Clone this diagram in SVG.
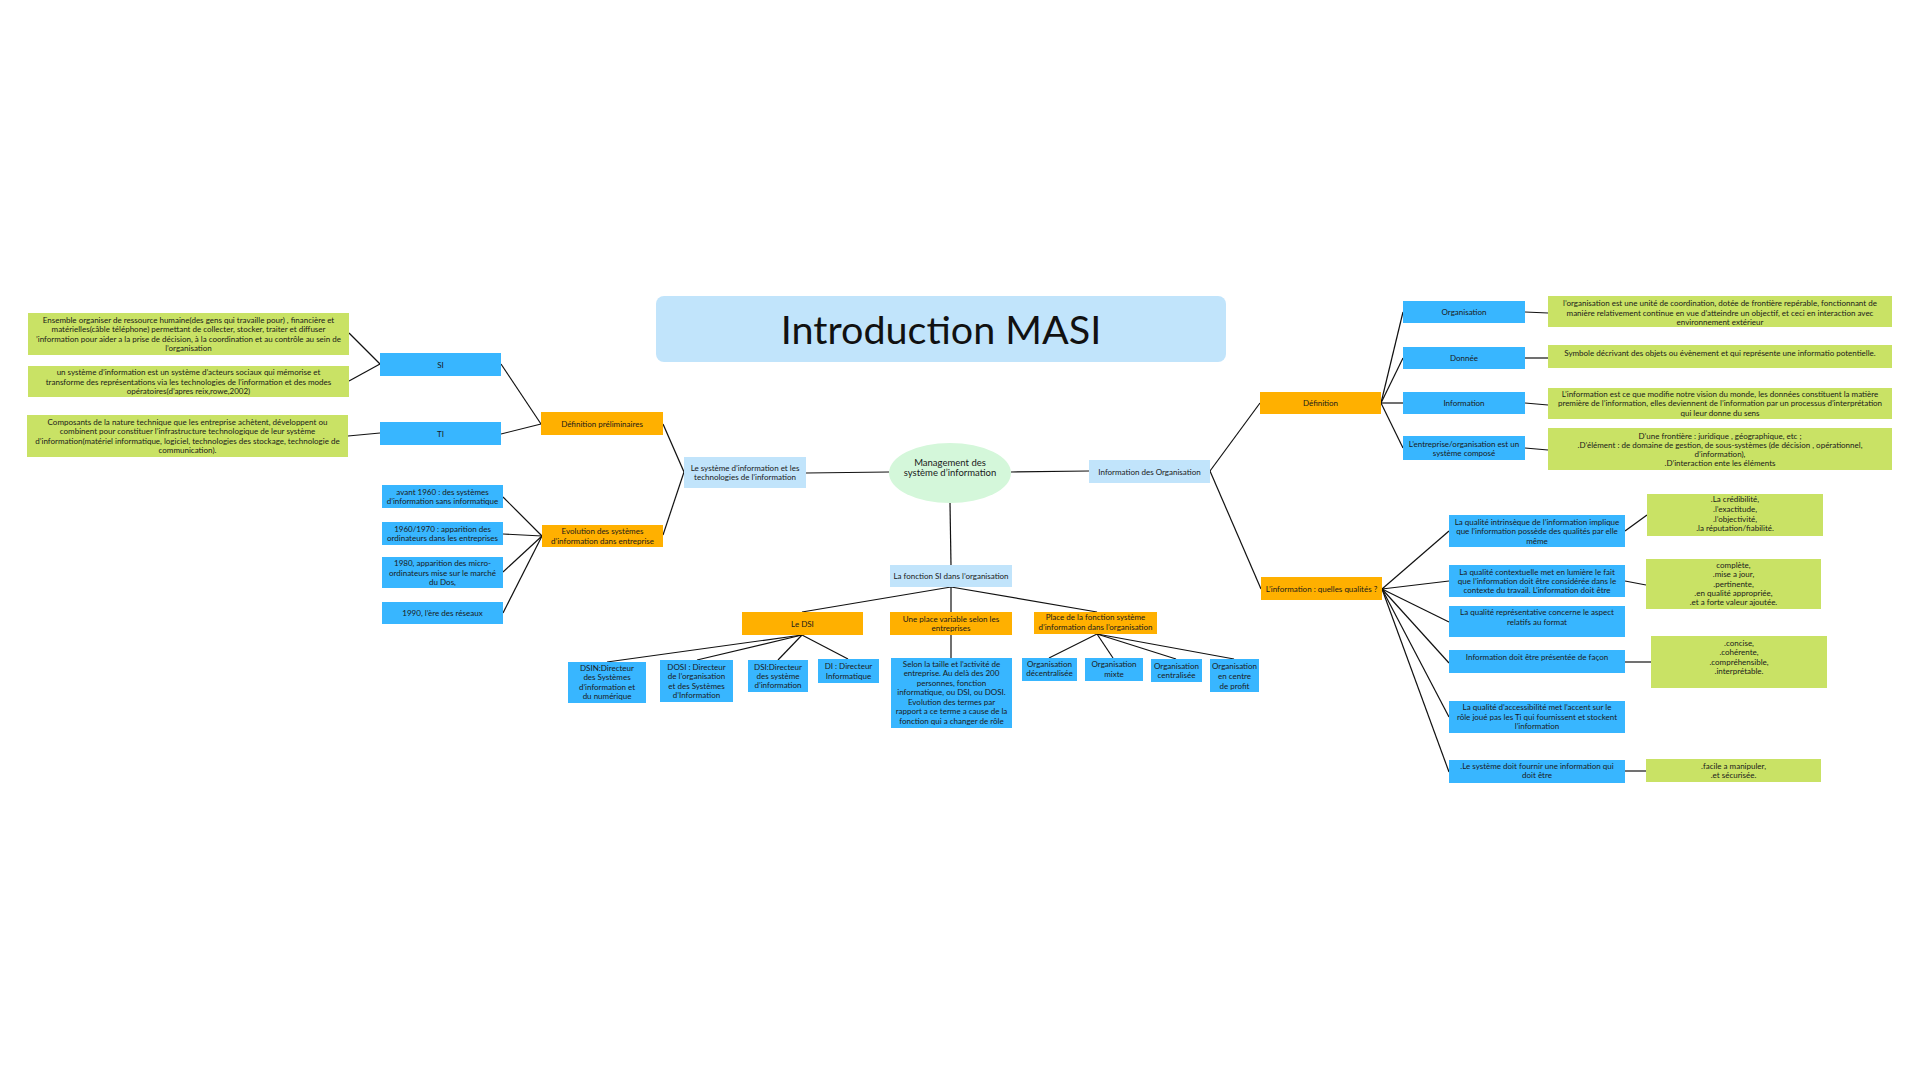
<svg xmlns="http://www.w3.org/2000/svg" width="1920" height="1080" viewBox="0 0 1920 1080">
<style>
text{font-family:"Lato","Liberation Sans",sans-serif;font-size:8px;fill:#1a1a1a;text-anchor:middle}
.b{fill:#38B6FF}
.o{fill:#FFB000}
.g{fill:#C9E265}
.l{fill:#C1E4FB}
.c line{stroke:#111;stroke-width:1.2}
.t{font-size:39.5px;fill:#111}
.m{font-size:9.5px}
</style>
<rect width="1920" height="1080" fill="#fff"/>
<g class="c">
<line x1="349" y1="333" x2="380" y2="364"/>
<line x1="349" y1="381" x2="380" y2="364"/>
<line x1="348" y1="436" x2="380" y2="433"/>
<line x1="501" y1="364" x2="541" y2="424"/>
<line x1="501" y1="434" x2="541" y2="424"/>
<line x1="503" y1="497" x2="542" y2="536"/>
<line x1="503" y1="534" x2="542" y2="536"/>
<line x1="503" y1="572" x2="542" y2="536"/>
<line x1="503" y1="613" x2="542" y2="536"/>
<line x1="663" y1="424" x2="684" y2="472"/>
<line x1="663" y1="535" x2="684" y2="472"/>
<line x1="806" y1="473" x2="889" y2="472"/>
<line x1="1011" y1="472" x2="1089" y2="471"/>
<line x1="950" y1="503" x2="951" y2="565"/>
<line x1="951" y1="587" x2="802" y2="612"/>
<line x1="951" y1="587" x2="951" y2="612"/>
<line x1="951" y1="587" x2="1097" y2="612"/>
<line x1="802" y1="635" x2="607" y2="662"/>
<line x1="802" y1="635" x2="697" y2="660"/>
<line x1="802" y1="635" x2="778" y2="660"/>
<line x1="802" y1="635" x2="848" y2="659"/>
<line x1="951" y1="635" x2="951" y2="658"/>
<line x1="1097" y1="634" x2="1049" y2="658"/>
<line x1="1097" y1="634" x2="1113" y2="658"/>
<line x1="1097" y1="634" x2="1176" y2="659"/>
<line x1="1097" y1="634" x2="1234" y2="659"/>
<line x1="1210" y1="471" x2="1260" y2="403"/>
<line x1="1210" y1="471" x2="1261" y2="589"/>
<line x1="1381" y1="403" x2="1403" y2="312"/>
<line x1="1381" y1="403" x2="1403" y2="358"/>
<line x1="1381" y1="403" x2="1403" y2="403"/>
<line x1="1381" y1="403" x2="1403" y2="448"/>
<line x1="1525" y1="312" x2="1548" y2="313"/>
<line x1="1525" y1="358" x2="1548" y2="358"/>
<line x1="1525" y1="403" x2="1548" y2="405"/>
<line x1="1525" y1="448" x2="1548" y2="450"/>
<line x1="1382" y1="589" x2="1449" y2="531"/>
<line x1="1382" y1="589" x2="1449" y2="581"/>
<line x1="1382" y1="589" x2="1449" y2="622"/>
<line x1="1382" y1="589" x2="1449" y2="663"/>
<line x1="1382" y1="589" x2="1449" y2="717"/>
<line x1="1382" y1="589" x2="1449" y2="772"/>
<line x1="1625" y1="531" x2="1647" y2="515"/>
<line x1="1625" y1="581" x2="1646" y2="585"/>
<line x1="1625" y1="662" x2="1651" y2="662"/>
<line x1="1625" y1="771" x2="1646" y2="771"/>
</g>

<g id="title"><rect class="l" x="656" y="296" width="570" height="66" rx="8"/><text class="t" x="941" y="343.5">Introduction MASI</text></g>

<g id="center"><ellipse cx="950" cy="473" rx="61" ry="30" fill="#D4F7DA"/><text class="m" x="950" y="465.5">Management des</text><text class="m" x="950" y="476">système d’information</text></g>

<g id="n-si-ti"><rect class="l" x="684" y="457" width="122" height="31"/><text x="745" y="470.8">Le système d’information et les</text><text x="745" y="480.1">technologies de l’information</text></g>
<g id="n-info-org"><rect class="l" x="1089" y="460" width="121" height="23"/><text x="1149.5" y="474.5">Information des Organisation</text></g>
<g id="n-fonction"><rect class="l" x="890" y="565" width="122" height="22"/><text x="951" y="579">La fonction SI dans l’organisation</text></g>

<g id="n-defprelim"><rect class="o" x="541" y="412" width="122" height="23"/><text x="602" y="426.5">Définition préliminaires</text></g>
<g id="n-evolution"><rect class="o" x="542" y="525" width="121" height="22"/><text x="602.5" y="534.3">Evolution des systèmes</text><text x="602.5" y="543.6">d’information dans entreprise</text></g>

<g id="n-si"><rect class="b" x="380" y="353" width="121" height="23"/><text x="440.5" y="367.5">SI</text></g>
<g id="n-ti"><rect class="b" x="380" y="422" width="121" height="23"/><text x="440.5" y="436.5">TI</text></g>

<g id="n-g1"><rect class="g" x="28" y="313" width="321" height="42"/><text x="188.5" y="323">Ensemble organiser de ressource humaine(des gens qui travaille pour) , financière et</text><text x="188.5" y="332.3">matérielles(câble téléphone) permettant de collecter, stocker, traiter et diffuser</text><text x="188.5" y="341.7">’information pour aider a la prise de décision, à la coordination et au contrôle au sein de</text><text x="188.5" y="351">l’organisation</text></g>
<g id="n-g2"><rect class="g" x="28" y="366" width="321" height="31"/><text x="188.5" y="375.2">un système d’information est un système d’acteurs sociaux qui mémorise et</text><text x="188.5" y="384.5">transforme des représentations via les technologies de l’information et des modes</text><text x="188.5" y="393.8">opératoires(d’apres reix,rowe,2002)</text></g>
<g id="n-g3"><rect class="g" x="27" y="415" width="321" height="42"/><text x="187.5" y="425">Composants de la nature technique que les entreprise achètent, développent ou</text><text x="187.5" y="434.3">combinent pour constituer l’infrastructure technologique de leur système</text><text x="187.5" y="443.6">d’information(matériel informatique, logiciel, technologies des stockage, technologie de</text><text x="187.5" y="453">communication).</text></g>

<g id="n-1960a"><rect class="b" x="382" y="485" width="121" height="23"/><text x="442.5" y="494.8">avant 1960 : des systèmes</text><text x="442.5" y="504.1">d’information sans informatique</text></g>
<g id="n-1960b"><rect class="b" x="382" y="522" width="121" height="23"/><text x="442.5" y="531.8">1960/1970 : apparition des</text><text x="442.5" y="541.1">ordinateurs dans les entreprises</text></g>
<g id="n-1980"><rect class="b" x="382" y="557" width="121" height="31"/><text x="442.5" y="566.2">1980, apparition des micro-</text><text x="442.5" y="575.5">ordinateurs mise sur le marché</text><text x="442.5" y="584.8">du Dos,</text></g>
<g id="n-1990"><rect class="b" x="382" y="602" width="121" height="22"/><text x="442.5" y="616">1990, l’ère des réseaux</text></g>

<g id="n-ledsi"><rect class="o" x="742" y="612" width="121" height="23"/><text x="802.5" y="626.5">Le DSI</text></g>
<g id="n-place-var"><rect class="o" x="890" y="612" width="122" height="23"/><text x="951" y="621.8">Une place variable selon les</text><text x="951" y="631.1">entreprises</text></g>
<g id="n-place-fn"><rect class="o" x="1034" y="612" width="123" height="22"/><text x="1095.5" y="620.3">Place de la fonction système</text><text x="1095.5" y="629.6">d’information dans l’organisation</text></g>

<g id="n-dsin"><rect class="b" x="568" y="662" width="78" height="41"/><text x="607" y="670.7">DSIN:Directeur</text><text x="607" y="680.1">des Systèmes</text><text x="607" y="689.5">d’information et</text><text x="607" y="698.9">du numérique</text></g>
<g id="n-dosi"><rect class="b" x="660" y="660" width="73" height="42"/><text x="696.5" y="669.9">DOSI : Directeur</text><text x="696.5" y="679.2">de l’organisation</text><text x="696.5" y="688.5">et des Systèmes</text><text x="696.5" y="697.8">d’Information</text></g>
<g id="n-dsi"><rect class="b" x="748" y="660" width="60" height="32"/><text x="778" y="669.7">DSI:Directeur</text><text x="778" y="679">des système</text><text x="778" y="688.3">d’information</text></g>
<g id="n-di"><rect class="b" x="818" y="659" width="61" height="24"/><text x="848.5" y="669">DI : Directeur</text><text x="848.5" y="678.7">Informatique</text></g>
<g id="n-selon"><rect class="b" x="891" y="658" width="121" height="70"/><text x="951.5" y="667">Selon la taille et l’activité de</text><text x="951.5" y="676.4">entreprise. Au delà des 200</text><text x="951.5" y="685.9">personnes, fonction</text><text x="951.5" y="695.3">informatique, ou DSI, ou DOSI.</text><text x="951.5" y="704.8">Evolution des termes par</text><text x="951.5" y="714.2">rapport a ce terme a cause de la</text><text x="951.5" y="723.7">fonction qui a changer de rôle</text></g>
<g id="n-org-dec"><rect class="b" x="1022" y="658" width="55" height="23"/><text x="1049.5" y="667">Organisation</text><text x="1049.5" y="676.3">décentralisée</text></g>
<g id="n-org-mixte"><rect class="b" x="1085" y="658" width="58" height="23"/><text x="1114" y="667">Organisation</text><text x="1114" y="677">mixte</text></g>
<g id="n-org-cent"><rect class="b" x="1151" y="659" width="51" height="23"/><text x="1176.5" y="668.7">Organisation</text><text x="1176.5" y="678">centralisée</text></g>
<g id="n-org-profit"><rect class="b" x="1210" y="659" width="49" height="33"/><text x="1234.5" y="669">Organisation</text><text x="1234.5" y="679">en centre</text><text x="1234.5" y="689">de profit</text></g>

<g id="n-definition"><rect class="o" x="1260" y="392" width="121" height="22"/><text x="1320.5" y="406">Définition</text></g>
<g id="n-organisation"><rect class="b" x="1403" y="301" width="122" height="22"/><text x="1464" y="315">Organisation</text></g>
<g id="n-g-org"><rect class="g" x="1548" y="296" width="344" height="31"/><text x="1720" y="306.3">l’organisation est une unité de coordination, dotée de frontière repérable, fonctionnant de</text><text x="1720" y="315.7">manière relativement continue en vue d’atteindre un objectif, et ceci en interaction avec</text><text x="1720" y="325">environnement extérieur</text></g>
<g id="n-donnee"><rect class="b" x="1403" y="347" width="122" height="22"/><text x="1464" y="361">Donnée</text></g>
<g id="n-g-donnee"><rect class="g" x="1548" y="345" width="344" height="23"/><text x="1720" y="355.7">Symbole décrivant des objets ou évènement et qui représente une informatio potentielle.</text></g>
<g id="n-information"><rect class="b" x="1403" y="392" width="122" height="22"/><text x="1464" y="406">Information</text></g>
<g id="n-g-info"><rect class="g" x="1548" y="388" width="344" height="31"/><text x="1720" y="397">L’information est ce que modifie notre vision du monde, les données constituent la matière</text><text x="1720" y="406.3">première de l’information, elles deviennent de l’information par un processus d’interprétation</text><text x="1720" y="415.7">qui leur donne du sens</text></g>
<g id="n-entreprise"><rect class="b" x="1403" y="436" width="122" height="24"/><text x="1464" y="447">L’entreprise/organisation est un</text><text x="1464" y="456.3">système composé</text></g>
<g id="n-g-entreprise"><rect class="g" x="1548" y="428" width="344" height="42"/><text x="1720" y="438.7">D’une frontière : juridique , géographique, etc ;</text><text x="1720" y="448">.D’élément : de domaine de gestion, de sous-systèmes (de décision , opérationnel,</text><text x="1720" y="457">d’information),</text><text x="1720" y="466.3">.D’interaction ente les éléments</text></g>

<g id="n-qualites"><rect class="o" x="1261" y="577" width="121" height="23"/><text x="1321.5" y="591.5">L’information : quelles qualités ?</text></g>
<g id="n-intrinseque"><rect class="b" x="1449" y="515" width="176" height="32"/><text x="1537" y="524.7">La qualité intrinsèque de l’information implique</text><text x="1537" y="534.3">que l’information possède des qualités par elle</text><text x="1537" y="543.7">même</text></g>
<g id="n-g-intr"><rect class="g" x="1647" y="494" width="176" height="42"/><text x="1735" y="502.3">.La crédibilité,</text><text x="1735" y="511.9">.l’exactitude,</text><text x="1735" y="521.5">.l’objectivité,</text><text x="1735" y="531.1">.la réputation/fiabilité.</text></g>
<g id="n-contextuelle"><rect class="b" x="1449" y="565" width="176" height="32"/><text x="1537" y="574.7">La qualité contextuelle met en lumière le fait</text><text x="1537" y="583.7">que l’information doit être considérée dans le</text><text x="1537" y="593">contexte du travail. L’information doit être</text></g>
<g id="n-g-ctx"><rect class="g" x="1646" y="559" width="175" height="50"/><text x="1733.5" y="568">complète,</text><text x="1733.5" y="577.3">.mise a jour,</text><text x="1733.5" y="586.5">.pertinente,</text><text x="1733.5" y="596">.en qualité appropriée,</text><text x="1733.5" y="605.3">.et a forte valeur ajoutée.</text></g>
<g id="n-representative"><rect class="b" x="1449" y="606" width="176" height="31"/><text x="1537" y="615.3">La qualité représentative concerne le aspect</text><text x="1537" y="624.7">relatifs au format</text></g>
<g id="n-presentee"><rect class="b" x="1449" y="650" width="176" height="23"/><text x="1537" y="660">Information doit être présentée de façon</text></g>
<g id="n-g-pres"><rect class="g" x="1651" y="636" width="176" height="52"/><text x="1739" y="645.7">.concise,</text><text x="1739" y="655.3">.cohérente,</text><text x="1739" y="664.7">.compréhensible,</text><text x="1739" y="674">.interprétable.</text></g>
<g id="n-accessibilite"><rect class="b" x="1449" y="701" width="176" height="32"/><text x="1537" y="710.3">La qualité d’accessibilité met l’accent sur le</text><text x="1537" y="719.7">rôle joué pas les Ti qui fournissent et stockent</text><text x="1537" y="729">l’information</text></g>
<g id="n-systeme"><rect class="b" x="1449" y="760" width="176" height="23"/><text x="1537" y="769">.Le système doit fournir une information qui</text><text x="1537" y="778.3">doit être</text></g>
<g id="n-g-sys"><rect class="g" x="1646" y="759" width="175" height="23"/><text x="1733.5" y="768.7">.facile a manipuler,</text><text x="1733.5" y="778">.et sécurisée.</text></g>
</svg>
